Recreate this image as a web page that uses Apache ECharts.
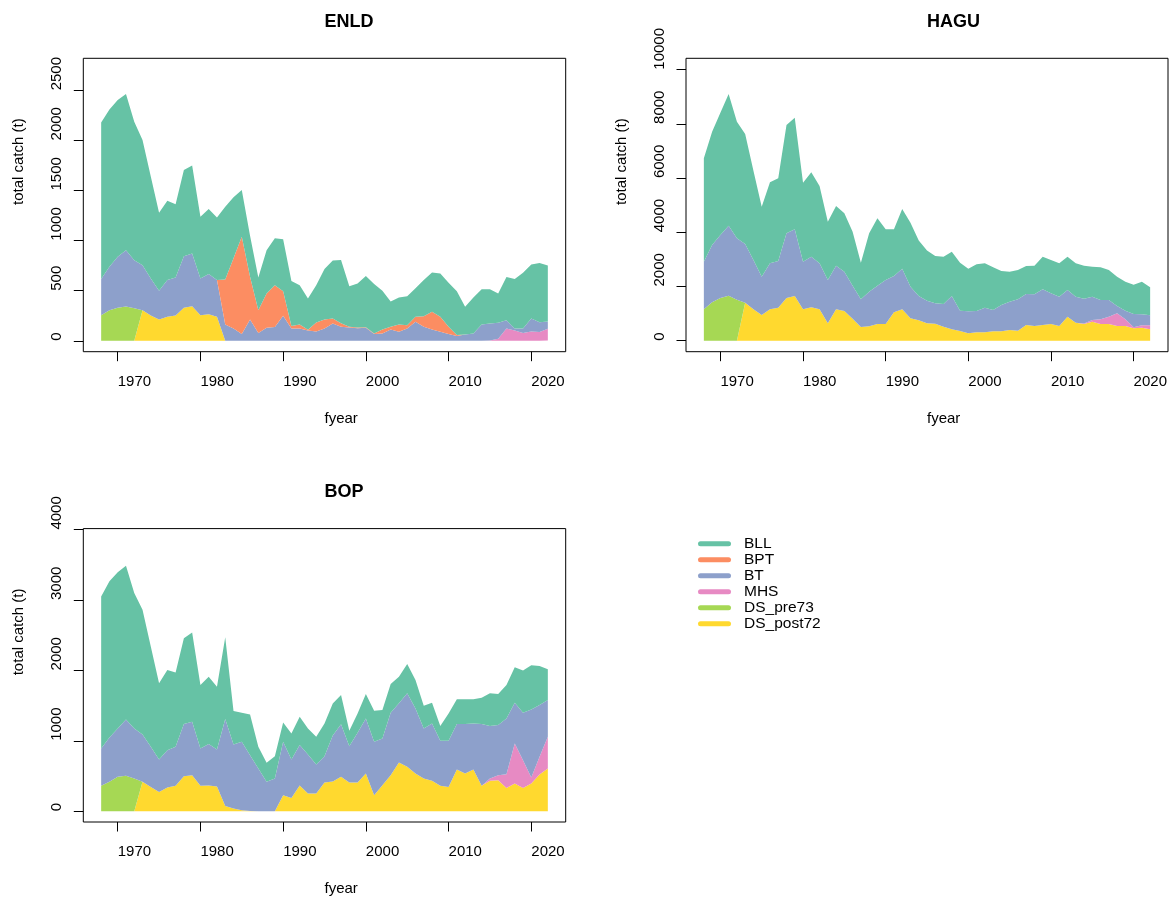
<!DOCTYPE html>
<html><head><meta charset="utf-8">
<script src="https://cdn.jsdelivr.net/npm/echarts@6/dist/echarts.min.js"></script>
<style>html,body{margin:0;padding:0;background:#fff}#c{width:1173px;height:904px}</style>
</head><body><div id="c"></div>
<script>
const years = [1968,1969,1970,1971,1972,1973,1974,1975,1976,1977,1978,1979,1980,1981,1982,1983,1984,1985,1986,1987,1988,1989,1990,1991,1992,1993,1994,1995,1996,1997,1998,1999,2000,2001,2002,2003,2004,2005,2006,2007,2008,2009,2010,2011,2012,2013,2014,2015,2016,2017,2018,2019,2020,2021,2022];

// ENLD
const enld_DS_post72 = [0,0,0,0,0, 306,253,213,240,253, 330,346,256,266,240, 0,0,0,0,0, 0,0,0,0,0, 0,0,0,0,0, 0,0,0,0,0, 0,0,0,0,0, 0,0,0,0,0, 0,0,0,0,0, 0,0,0,0,4];
const enld_DS_pre73 = [256,306,330,343,325, 0,0,0,0,0, 0,0,0,0,0, 0,0,0,0,0, 0,0,0,0,0, 0,0,0,0,0, 0,0,0,0,0, 0,0,0,0,0, 0,0,0,0,0, 0,0,0,0,0, 0,0,0,0,0];
const enld_MHS = [0,0,0,0,0, 0,0,0,0,0, 0,0,0,0,0, 0,0,0,0,0, 0,0,0,0,0, 0,0,0,0,0, 0,0,0,0,0, 0,0,0,0,0, 0,0,0,0,0, 0,0,3,20,123, 103,77,93,87,116];
const enld_BT = [360,433,509,562,480, 449,369,286,366,380, 515,526,366,400,366, 163,123,67,213,77, 130,137,250,123,123, 103,93,123,173,140, 133,126,130,67,73, 113,90,123,190,140, 113,90,67,47,63, 73,163,170,160,83, 20,46,130,99,73];
const enld_BPT = [0,0,0,0,0, 0,0,0,0,0, 0,0,0,0,0, 449,702,971,426,229, 343,419,246,24,40, 7,90,90,50,35, 7,7,6,6,40, 27,73,33,50,106, 177,150,73,10,0, 0,0,0,0,0, 0,0,0,0,0];
const enld_BLL = [1564,1571,1564,1558,1382, 1249,1018,779,792,729, 859,879,616,649,626, 726,607,467,411,327, 432,469,519,449,393, 313,373,503,580,631, 406,440,510,493,386, 253,270,290,286,360, 393,433,439,439,277, 360,353,343,293,430, 493,556,540,590,560];

// HAGU
const hagu_DS_post72 = [0,0,0,0,0, 1404,1157,948,1157,1219, 1576,1649,1157,1231,1157, 641,1157,1096,813,505, 530,616,616,1047,1157, 830,750,640,628,518, 419,358,272,309,309, 346,346,395,370,579, 542,579,616,542,887, 665,616,702,616,616, 542,542,456,481,419];
const hagu_DS_pre73 = [1157,1416,1576,1662,1514, 0,0,0,0,0, 0,0,0,0,0, 0,0,0,0,0, 0,0,0,0,0, 0,0,0,0,0, 0,0,0,0,0, 0,0,0,0,0, 0,0,0,0,0, 0,0,0,0,0, 0,0,0,0,0];
const hagu_MHS = [0,0,0,0,0, 0,0,0,0,0, 0,0,0,0,0, 0,0,0,0,0, 0,0,0,0,0, 0,0,0,0,0, 0,0,0,0,0, 0,0,0,0,0, 0,0,0,0,0, 0,15,62,172,271, 468,246,37,86,148];
const hagu_BT = [1759,2115,2324,2583,2263, 2164,1821,1415,1698,1722, 2386,2461,1759,1870,1698, 1599,1612,1451,1218,1022, 1279,1415,1624,1340,1501, 1164,900,830,752,836, 1230,750,812,787,910, 787,971,1045,1157,1144, 1169,1317,1132,1083,984, 960,920,861,714,615, 270,320,492,406,369];
const hagu_BLL = [3813,4182,4515,4858,4305, 4059,3296,2583,2989,3050, 3997,4120,2915,3112,2853, 2152,2202,2153,1992,1352, 2153,2484,1870,1723,2202, 2361,2050,1860,1745,1747, 1636,1771,1574,1722,1636, 1574,1255,1107,1082,1033, 1058,1205,1230,1230,1230, 1230,1218,1107,1205,1107, 1083,1070,1083,1205,1033];

// BOP
const bop_DS_post72 = [0,0,0,0,0, 418,346,275,337,361, 498,512,361,365,351, 76,38,14,5,0, 0,0,228,190,365, 252,252,408,422,489, 408,408,536,228,370, 512,693,631,536,465, 432,361,346,593,536, 593,361,432,441,332, 394,332,394,522,607];
const bop_DS_pre73 = [361,418,489,503,465, 0,0,0,0,0, 0,0,0,0,0, 0,0,0,0,0, 0,0,0,0,0, 0,0,0,0,0, 0,0,0,0,0, 0,0,0,0,0, 0,0,0,0,0, 0,0,0,0,0, 0,0,0,0,0];
const bop_MHS = [0,0,0,0,0, 0,0,0,0,0, 0,0,0,0,0, 0,0,0,0,0, 0,0,0,0,0, 0,0,0,0,0, 0,0,0,0,0, 0,0,0,0,0, 0,0,0,0,0, 0,0,33,71,195, 569,394,85,251,451];
const bop_BT = [531,631,688,802,712, 673,570,460,531,555, 740,760,531,589,527, 1234,911,973,792,607, 418,465,759,545,575, 555,412,375,653,747, 517,707,783,759,664, 888,840,1044,925,712, 816,640,655,645,702, 655,877,745,712,792, 579,674,968,736,522];
const bop_BLL = [2159,2216,2216,2183,1921, 1770,1423,1082,1139,1053, 1220,1267,902,958,892, 1162,474,413,579,309, 270,318,275,371,403, 370,394,465,455,414, 218,275,346,441,404, 408,379,418,404,322, 294,209,389,352,352, 342,375,465,441,475, 503,598,627,555,437];

const xTicks = [1970,1980,1990,2000,2010,2020];
const yTicksENLD = [0,500,1000,1500,2000,2500];
const yTicksHAGU = [0,2000,4000,6000,8000,10000];
const yTicksBOP = [0,1000,2000,3000,4000];
const legendNames = ['BLL','BPT','BT','MHS','DS_pre73','DS_post72'];

const colors = {BLL:'#66C2A5', BPT:'#FC8D62', BT:'#8DA0CB', MHS:'#E78AC3', DS_pre73:'#A6D854', DS_post72:'#FFD92F'};
const FONT = 'Liberation Sans, Arial, sans-serif';
const tickLine = {color:'#000', width:1};

function mk(name, data, gi, stack) {
  // value first so that the stacked dimension is the y (catch) dimension
  return {
    type:'line', name: name, xAxisIndex:gi, yAxisIndex:gi, stack: stack,
    data: years.map((y,i)=>[data[i], y]),
    encode:{x:1, y:0},
    showSymbol:false, symbol:'none',
    lineStyle:{width:0, opacity:0},
    itemStyle:{color:colors[name]},
    areaStyle:{color:colors[name], opacity:1},
    emphasis:{disabled:true}, silent:true, animation:false
  };
}
function xa(gi) {
  return {
    type:'value', gridIndex:gi, min:1965.84, max:2024.16,
    name:'fyear', nameLocation:'middle', nameGap:67.3,
    nameTextStyle:{align:'left', verticalAlign:'middle', fontSize:15, color:'#000', fontFamily:FONT},
    axisLine:{show:false, onZero:false}, splitLine:{show:false},
    axisTick:{show:true, length:9.5, lineStyle:tickLine, customValues:xTicks},
    axisLabel:{customValues:xTicks, formatter:v=>String(v), align:'left', verticalAlign:'middle', margin:30, fontSize:15, color:'#000', fontFamily:FONT}
  };
}
function ya(gi, min, max, ticks) {
  return {
    type:'value', gridIndex:gi, min:min, max:max,
    name:'total catch (t)', nameLocation:'middle', nameGap:64.5, nameRotate:90,
    nameTextStyle:{align:'left', verticalAlign:'middle', fontSize:15, color:'#000', fontFamily:FONT},
    axisLine:{show:false, onZero:false}, splitLine:{show:false},
    axisTick:{show:true, length:9.5, lineStyle:tickLine, customValues:ticks},
    axisLabel:{customValues:ticks, formatter:v=>String(v), rotate:90, align:'left', verticalAlign:'middle', margin:26.4, fontSize:15, color:'#000', fontFamily:FONT}
  };
}
function grid(left, top, width, height) {
  return {left:left, top:top, width:width, height:height, show:true, borderColor:'#000', borderWidth:1, backgroundColor:'transparent', containLabel:false, outerBoundsMode:'none'};
}
function titleAt(text, left, top) {
  return {text:text, left:left, top:top, padding:0, textStyle:{fontSize:18, fontWeight:'bold', color:'#000', fontFamily:FONT}};
}

const series = [
  mk('DS_post72', enld_DS_post72, 0, 'enld'),
  mk('DS_pre73', enld_DS_pre73, 0, 'enld'),
  mk('MHS', enld_MHS, 0, 'enld'),
  mk('BT', enld_BT, 0, 'enld'),
  mk('BPT', enld_BPT, 0, 'enld'),
  mk('BLL', enld_BLL, 0, 'enld'),
  mk('DS_post72', hagu_DS_post72, 1, 'hagu'),
  mk('DS_pre73', hagu_DS_pre73, 1, 'hagu'),
  mk('MHS', hagu_MHS, 1, 'hagu'),
  mk('BT', hagu_BT, 1, 'hagu'),
  mk('BLL', hagu_BLL, 1, 'hagu'),
  mk('DS_post72', bop_DS_post72, 2, 'bop'),
  mk('DS_pre73', bop_DS_pre73, 2, 'bop'),
  mk('MHS', bop_MHS, 2, 'bop'),
  mk('BT', bop_BT, 2, 'bop'),
  mk('BLL', bop_BLL, 2, 'bop')
];

const chart = echarts.init(document.getElementById('c'), null, {renderer:'canvas'});
chart.setOption({
  backgroundColor:'#fff',
  animation:false,
  title:[titleAt('ENLD', 324.5, 13), titleAt('HAGU', 927, 13), titleAt('BOP', 324.5, 483)],
  legend:{
    orient:'vertical', left:698, top:535.8, itemWidth:33, itemHeight:5, itemGap:0,
    icon:'path://M2.5,0H30.5A2.5,2.5,0,0,1,30.5,5H2.5A2.5,2.5,0,0,1,2.5,0Z',
    selectedMode:false, padding:0, data:legendNames,
    itemStyle:{borderWidth:0},
    textStyle:{fontSize:15.5, color:'#000', fontFamily:FONT, lineHeight:16, padding:[0,0,0,8]}
  },
  grid:[grid(83.3, 58.3, 482.4, 293.4), grid(686, 58.3, 482, 293.4), grid(83.3, 528.6, 482.4, 293.4)],
  xAxis:[xa(0), xa(1), xa(2)],
  yAxis:[ya(0, -108.5, 2820, yTicksENLD), ya(1, -406, 10421, yTicksHAGU), ya(2, -152, 4014, yTicksBOP)],
  series: series
});
</script>
</body></html>
